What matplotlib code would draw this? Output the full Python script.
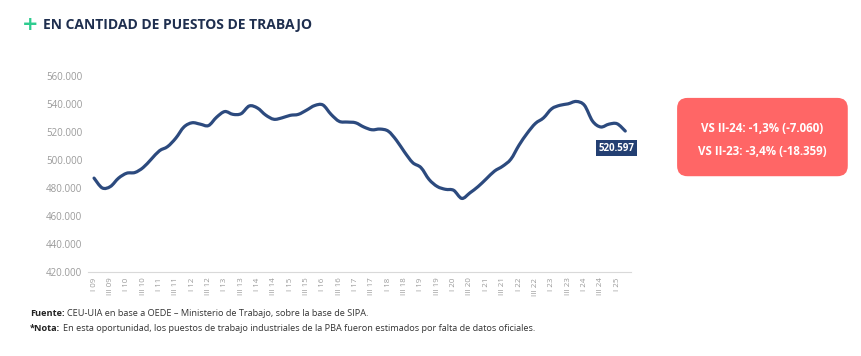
import matplotlib
matplotlib.use("Agg")
import matplotlib.pyplot as plt
from matplotlib.path import Path
from matplotlib.patches import PathPatch, FancyBboxPatch
import numpy as np

# ---- data ----
years = list(range(9, 26))
roman = ["I", "II", "III", "IV"]
quarters = [f"{r} {y:02d}" for y in years for r in roman][:66]   # I 09 .. II 25

puestos = [
    487.0, 480.0, 481.0, 487.0, 490.5, 491.0, 494.5, 500.5, 506.5, 509.5,
    515.5, 523.5, 526.5, 525.5, 524.5, 530.5, 534.5, 532.5, 533.0, 538.5,
    537.0, 532.0, 529.0, 530.0, 531.8, 532.5, 535.5, 538.8, 539.2, 532.5,
    527.5, 527.0, 526.5, 523.5, 521.5, 522.0, 520.5, 514.0, 505.5, 498.0,
    494.5, 486.0, 481.0, 479.0, 478.3, 472.5, 476.5, 481.0, 486.5, 492.0,
    495.5, 500.5, 510.5, 519.0, 526.0, 530.0, 536.5, 538.956, 540.0, 541.7,
    539.0, 527.657, 523.5, 525.5, 525.8, 520.597,
]
puestos = [v * 1000 for v in puestos]

last_label = "520.597"
box_lines = ["VS II-24: -1,3% (-7.060)", "VS II-23: -3,4% (-18.359)"]
yticks = [420000, 440000, 460000, 480000, 500000, 520000, 540000, 560000]
title = "EN CANTIDAD DE PUESTOS DE TRABAJO"

NAVY = "#2c4a7e"
GRAY = "#9a9a9a"

fig = plt.figure(figsize=(8.62, 3.56), dpi=100)
ax = fig.add_axes([0.102, 0.236, 0.630, 0.551])

# smooth curve (Catmull-Rom as cubic Bezier) through the data points
x = np.arange(len(puestos), dtype=float)
y = np.array(puestos, dtype=float)
verts = [(x[0], y[0])]
codes = [Path.MOVETO]
n = len(x)
for i in range(n - 1):
    p0 = (x[max(i - 1, 0)], y[max(i - 1, 0)])
    p1 = (x[i], y[i])
    p2 = (x[i + 1], y[i + 1])
    p3 = (x[min(i + 2, n - 1)], y[min(i + 2, n - 1)])
    c1 = (p1[0] + (p2[0] - p0[0]) / 6, p1[1] + (p2[1] - p0[1]) / 6)
    c2 = (p2[0] - (p3[0] - p1[0]) / 6, p2[1] - (p3[1] - p1[1]) / 6)
    verts += [c1, c2, p2]
    codes += [Path.CURVE4] * 3
ax.add_patch(PathPatch(Path(verts, codes), facecolor="none", edgecolor=NAVY,
                       lw=2.3, capstyle="round", joinstyle="round"))
ax.plot(x, y, alpha=0)

ax.set_xlim(-0.75, len(puestos) - 0.3)
ax.set_ylim(420000, 560000)
ax.set_yticks(yticks)
ax.set_yticklabels([f"{v:,}".replace(",", ".") for v in yticks],
                   fontsize=7, color=GRAY, family="Open Sans")
tick_idx = [i for i, q in enumerate(quarters) if q.split()[0] in ("I", "III")]
ax.set_xticks(tick_idx)
ax.set_xticklabels([quarters[i] for i in tick_idx], rotation=90,
                   fontsize=5.7, color=GRAY, family="Open Sans")
ax.tick_params(axis="both", length=0, pad=4)
for s in ["top", "right", "left"]:
    ax.spines[s].set_visible(False)
ax.spines["bottom"].set_color("#d9d9d9")
ax.spines["bottom"].set_linewidth(0.8)

# last-value label
ax.annotate(last_label, xy=(x[-1], y[-1]), xytext=(-6.5, -12.5),
            textcoords="offset points", ha="center", va="center",
            fontsize=7, fontweight="bold", color="white", family="Open Sans",
            bbox=dict(boxstyle="square,pad=0.25", fc="#233f72", ec="none"))

# comparison box
box = FancyBboxPatch((0.7855, 0.505), 0.198, 0.22,
                     boxstyle="round,pad=0,rounding_size=0.012",
                     transform=fig.transFigure, fc="#ff6666", ec="none",
                     mutation_aspect=862 / 356)
fig.add_artist(box)
fig.text(0.8845, 0.640, box_lines[0], ha="center", va="center",
         fontsize=8.3, fontweight="bold", color="white", family="Open Sans")
fig.text(0.8845, 0.575, box_lines[1], ha="center", va="center",
         fontsize=8.3, fontweight="bold", color="white", family="Open Sans")

# title
fig.text(0.025, 0.930, "+", fontsize=14, fontweight="bold", color="#2ecc8f",
         va="center", family="DejaVu Sans")
fig.text(0.050, 0.930, title, fontsize=10, fontweight="bold",
         color="#1f2f4f", va="center", family="Open Sans")

# footnotes
fig.text(0.035, 0.118, "Fuente:", fontsize=6.6, fontweight="bold",
         color="#222222", family="Open Sans", va="center")
fig.text(0.0775, 0.118, "CEU-UIA en base a OEDE – Ministerio de Trabajo, sobre la base de SIPA.",
         fontsize=6.6, color="#333333", family="Open Sans", va="center")
fig.text(0.035, 0.077, "*Nota:", fontsize=6.6, fontweight="bold",
         color="#222222", family="Open Sans", va="center")
fig.text(0.0735, 0.077, "En esta oportunidad, los puestos de trabajo industriales de la PBA fueron estimados por falta de datos oficiales.",
         fontsize=6.6, color="#333333", family="Open Sans", va="center")

fig.savefig("out.png", dpi=100)
